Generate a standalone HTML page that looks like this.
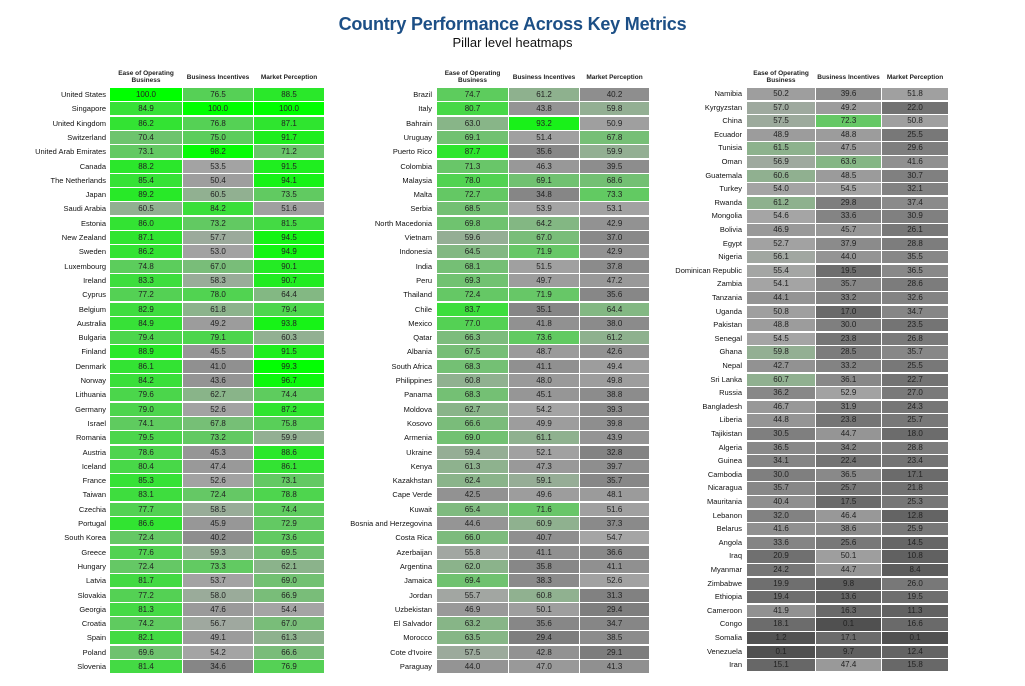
<!DOCTYPE html>
<html><head><meta charset="utf-8"><style>
body{margin:0;width:1025px;height:686px;background:#fff;position:relative;overflow:hidden;font-family:"Liberation Sans",sans-serif}
.t{position:absolute;left:0;width:1025px;text-align:center;white-space:nowrap}
.c{position:absolute;text-align:center;font-size:8px;color:#222;box-sizing:border-box}
.l{position:absolute;text-align:right;font-family:"Liberation Sans Narrow","Liberation Sans",sans-serif;font-size:7.5px;color:#111;white-space:nowrap}
.h{position:absolute;text-align:center;font-family:"Liberation Sans Narrow","Liberation Sans",sans-serif;font-size:6.5px;font-weight:bold;color:#222;line-height:7px}
</style></head><body>
<div class="t" style="top:13px;font-size:18px;line-height:22px;font-weight:bold;color:#1c4f86;letter-spacing:-0.2px">Country Performance Across Key Metrics</div>
<div class="t" style="top:35px;font-size:13px;line-height:16px;color:#111;">Pillar level heatmaps</div>
<div id="root"></div>
<script>
const P=[
{lx:106,cols:[[110,72],[183,70],[254,70]],top:88,rh:14.3,hy:70,rows:`United States|100.0|76.5|88.5
Singapore|84.9|100.0|100.0
United Kingdom|86.2|76.8|87.1
Switzerland|70.4|75.0|91.7
United Arab Emirates|73.1|98.2|71.2
Canada|88.2|53.5|91.5
The Netherlands|85.4|50.4|94.1
Japan|89.2|60.5|73.5
Saudi Arabia|60.5|84.2|51.6
Estonia|86.0|73.2|81.5
New Zealand|87.1|57.7|94.5
Sweden|86.2|53.0|94.9
Luxembourg|74.8|67.0|90.1
Ireland|83.3|58.3|90.7
Cyprus|77.2|78.0|64.4
Belgium|82.9|61.8|79.4
Australia|84.9|49.2|93.8
Bulgaria|79.4|79.1|60.3
Finland|88.9|45.5|91.5
Denmark|86.1|41.0|99.3
Norway|84.2|43.6|96.7
Lithuania|79.6|62.7|74.4
Germany|79.0|52.6|87.2
Israel|74.1|67.8|75.8
Romania|79.5|73.2|59.9
Austria|78.6|45.3|88.6
Iceland|80.4|47.4|86.1
France|85.3|52.6|73.1
Taiwan|83.1|72.4|78.8
Czechia|77.7|58.5|74.4
Portugal|86.6|45.9|72.9
South Korea|72.4|40.2|73.6
Greece|77.6|59.3|69.5
Hungary|72.4|73.3|62.1
Latvia|81.7|53.7|69.0
Slovakia|77.2|58.0|66.9
Georgia|81.3|47.6|54.4
Croatia|74.2|56.7|67.0
Spain|82.1|49.1|61.3
Poland|69.6|54.2|66.6
Slovenia|81.4|34.6|76.9`},
{lx:432,cols:[[437,71],[509,70],[580,69]],top:88,rh:14.3,hy:70,rows:`Brazil|74.7|61.2|40.2
Italy|80.7|43.8|59.8
Bahrain|63.0|93.2|50.9
Uruguay|69.1|51.4|67.8
Puerto Rico|87.7|35.6|59.9
Colombia|71.3|46.3|39.5
Malaysia|78.0|69.1|68.6
Malta|72.7|34.8|73.3
Serbia|68.5|53.9|53.1
North Macedonia|69.8|64.2|42.9
Vietnam|59.6|67.0|37.0
Indonesia|64.5|71.9|42.9
India|68.1|51.5|37.8
Peru|69.3|49.7|47.2
Thailand|72.4|71.9|35.6
Chile|83.7|35.1|64.4
Mexico|77.0|41.8|38.0
Qatar|66.3|73.6|61.2
Albania|67.5|48.7|42.6
South Africa|68.3|41.1|49.4
Philippines|60.8|48.0|49.8
Panama|68.3|45.1|38.8
Moldova|62.7|54.2|39.3
Kosovo|66.6|49.9|39.8
Armenia|69.0|61.1|43.9
Ukraine|59.4|52.1|32.8
Kenya|61.3|47.3|39.7
Kazakhstan|62.4|59.1|35.7
Cape Verde|42.5|49.6|48.1
Kuwait|65.4|71.6|51.6
Bosnia and Herzegovina|44.6|60.9|37.3
Costa Rica|66.0|40.7|54.7
Azerbaijan|55.8|41.1|36.6
Argentina|62.0|35.8|41.1
Jamaica|69.4|38.3|52.6
Jordan|55.7|60.8|31.3
Uzbekistan|46.9|50.1|29.4
El Salvador|63.2|35.6|34.7
Morocco|63.5|29.4|38.5
Cote d'Ivoire|57.5|42.8|29.1
Paraguay|44.0|47.0|41.3`},
{lx:742,cols:[[747,68],[816,65],[882,66]],top:88,rh:13.6,hy:70,rows:`Namibia|50.2|39.6|51.8
Kyrgyzstan|57.0|49.2|22.0
China|57.5|72.3|50.8
Ecuador|48.9|48.8|25.5
Tunisia|61.5|47.5|29.6
Oman|56.9|63.6|41.6
Guatemala|60.6|48.5|30.7
Turkey|54.0|54.5|32.1
Rwanda|61.2|29.8|37.4
Mongolia|54.6|33.6|30.9
Bolivia|46.9|45.7|26.1
Egypt|52.7|37.9|28.8
Nigeria|56.1|44.0|35.5
Dominican Republic|55.4|19.5|36.5
Zambia|54.1|35.7|28.6
Tanzania|44.1|33.2|32.6
Uganda|50.8|17.0|34.7
Pakistan|48.8|30.0|23.5
Senegal|54.5|23.8|26.8
Ghana|59.8|28.5|35.7
Nepal|42.7|33.2|25.5
Sri Lanka|60.7|36.1|22.7
Russia|36.2|52.9|27.0
Bangladesh|46.7|31.9|24.3
Liberia|44.8|23.8|25.7
Tajikistan|30.5|44.7|18.0
Algeria|36.5|34.2|28.8
Guinea|34.1|22.4|23.4
Cambodia|30.0|36.5|17.1
Nicaragua|35.7|25.7|21.8
Mauritania|40.4|17.5|25.3
Lebanon|32.0|46.4|12.8
Belarus|41.6|38.6|25.9
Angola|33.6|25.6|14.5
Iraq|20.9|50.1|10.8
Myanmar|24.2|44.7|8.4
Zimbabwe|19.9|9.8|26.0
Ethiopia|19.4|13.6|19.5
Cameroon|41.9|16.3|11.3
Congo|18.1|0.1|16.6
Somalia|1.2|17.1|0.1
Venezuela|0.1|9.7|12.4
Iran|15.1|47.4|15.8`}];
function col(v){if(v<=55){const g=Math.round(80+v*1.55);return `rgb(${g},${g},${g})`}
const t=(v-55)/45;const a=Math.round(165*(1-t)),g=Math.round(165+90*t);return `rgb(${a},${g},${a})`}
const heads=["Ease of Operating<br>Business","Business Incentives","Market Perception"];
let h="";
for(const p of P){
 p.cols.forEach((c,i)=>{const y=i==0?p.hy:p.hy+4;h+=`<div class="h" style="left:${c[0]}px;width:${c[1]}px;top:${y}px">${heads[i]}</div>`});
 p.rows.split("\n").forEach((r,j)=>{const f=r.split("|");const y=p.top+j*p.rh;const hh=p.rh-1.3;
  h+=`<div class="l" style="right:${1025-p.lx}px;top:${y}px;height:${hh}px;line-height:${hh}px">${f[0]}</div>`;
  p.cols.forEach((c,i)=>{const v=parseFloat(f[i+1]);
   h+=`<div class="c" style="left:${c[0]}px;width:${c[1]}px;top:${y}px;height:${hh}px;line-height:${hh}px;background:${col(v)}">${f[i+1]}</div>`});
 });
}
document.getElementById("root").innerHTML=h;
</script>
</body></html>
